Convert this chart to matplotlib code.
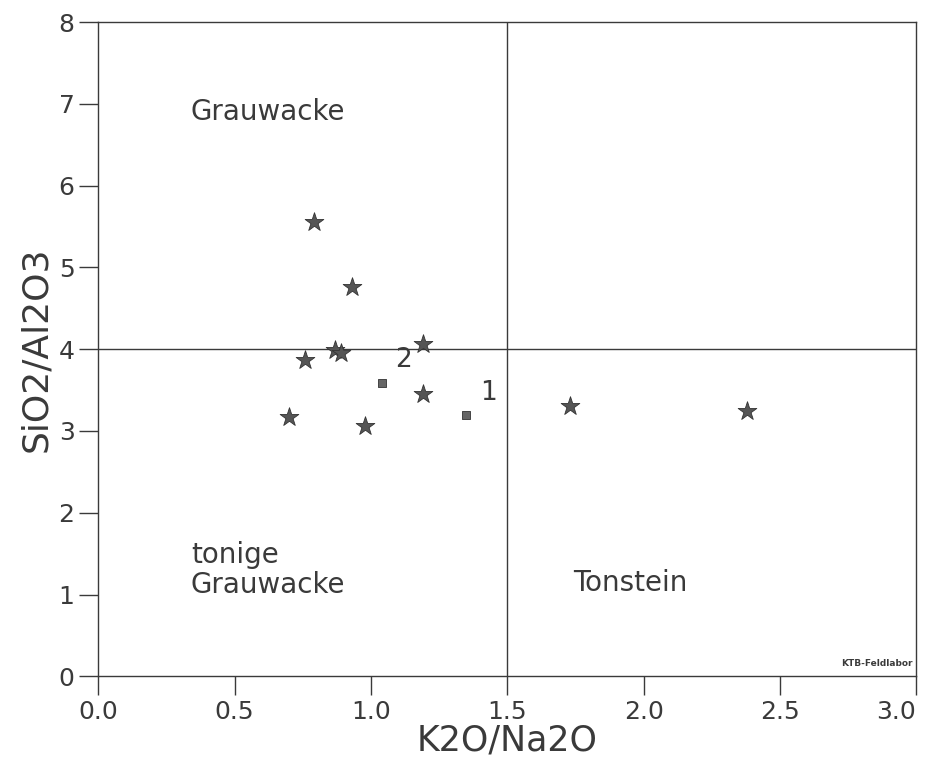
import matplotlib
matplotlib.use("Agg")
import matplotlib.pyplot as plt

# sample points (stars) and reference samples (squares)
star_x = [0.79, 0.93, 0.76, 0.87, 0.89, 1.19, 1.19, 0.70, 0.98, 1.73, 2.38]
star_y = [5.56, 4.76, 3.87, 3.99, 3.95, 4.06, 3.45, 3.17, 3.06, 3.30, 3.25]
sq_x = [1.04, 1.35]
sq_y = [3.59, 3.19]
sq_labels = ["2", "1"]

x_div = 1.5
y_div = 4.0
ink = "#3a3a3a"

plt.rcParams.update({"font.family": "DejaVu Sans"})
fig = plt.figure(figsize=(9.35, 7.65), dpi=100)
ax = fig.add_axes([0.105, 0.116, 0.875, 0.855])

ax.axvline(x_div, color=ink, lw=1.0)
ax.axhline(y_div, color=ink, lw=1.0)
ax.scatter(star_x, star_y, marker="*", s=200, color="#555555", edgecolors="#333333", linewidths=0.6, zorder=3)
ax.scatter(sq_x, sq_y, marker="s", s=40, color="#666666", edgecolors="#333333", linewidths=0.6, zorder=3)
for x, y, t in zip(sq_x, sq_y, sq_labels):
    ax.text(x + 0.05, y + 0.12, t, fontsize=19, color=ink, ha="left", va="bottom")

ax.text(0.34, 6.9, "Grauwacke", fontsize=20, color=ink, va="center")
ax.text(0.34, 1.3, "tonige\nGrauwacke", fontsize=20, color=ink, va="center", linespacing=1.05)
ax.text(1.74, 1.14, "Tonstein", fontsize=20, color=ink, va="center")
ax.text(2.985, 0.1, "KTB-Feldlabor", fontsize=6.5, fontweight="bold", color=ink, ha="right", va="bottom")

ax.set_xlim(0, 3.0)
ax.set_ylim(0, 8)
ax.set_xticks([0, 0.5, 1.0, 1.5, 2.0, 2.5, 3.0])
ax.set_xticklabels(["0.0", "0.5", "1.0", "1.5", "2.0", "2.5", "3.0"])
ax.set_yticks(range(0, 9))
ax.tick_params(direction="out", length=14, width=1.0, color=ink, labelcolor=ink, labelsize=18, pad=3)
for s in ax.spines.values():
    s.set_color(ink)
    s.set_linewidth(1.0)
# keep the last x tick label inside the canvas
ax.get_xticklabels()[-1].set_horizontalalignment("right")
ax.get_xticklabels()[-1].set_x(3.07)
ax.set_xlabel("K2O/Na2O", fontsize=25, color=ink, labelpad=0)
ax.set_ylabel("SiO2/Al2O3", fontsize=26, color=ink, labelpad=4)

fig.savefig("out.png", dpi=100)
